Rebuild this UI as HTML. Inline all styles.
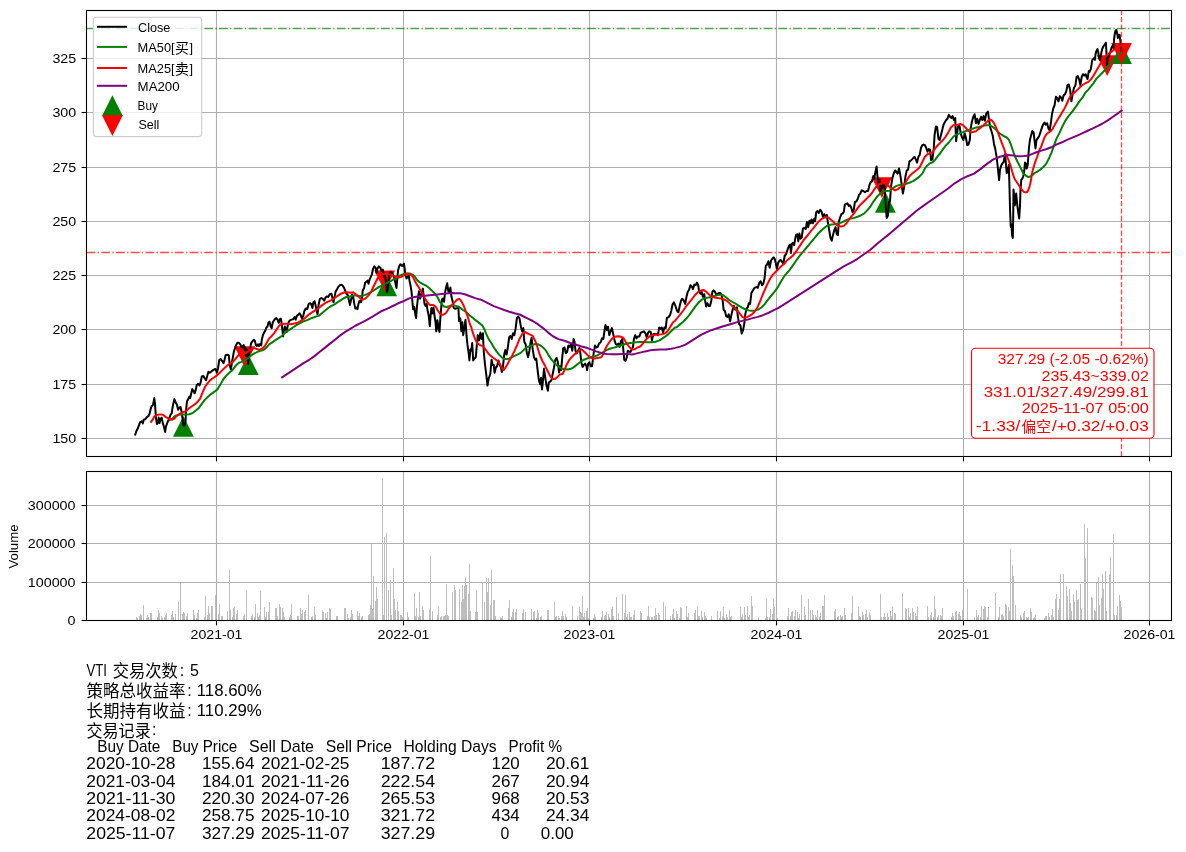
<!DOCTYPE html>
<html><head><meta charset="utf-8"><title>VTI</title>
<style>html,body{margin:0;padding:0;background:#fff}svg{display:block}svg text{font-family:"Liberation Sans","Noto Sans CJK SC",sans-serif}</style>
</head><body>
<svg width="1186" height="852" viewBox="0 0 1186 852" >
<rect width="1186" height="852" fill="#fff"/>
<defs><clipPath id="c1"><rect x="86.5" y="10.5" width="1085.0" height="446.0"/></clipPath></defs>
<g stroke="#b0b0b0" stroke-width="1.1" fill="none">
<path d="M216.5 10.5 V456.5"/>
<path d="M216.5 471.5 V620.5"/>
<path d="M403.5 10.5 V456.5"/>
<path d="M403.5 471.5 V620.5"/>
<path d="M589.5 10.5 V456.5"/>
<path d="M589.5 471.5 V620.5"/>
<path d="M776.5 10.5 V456.5"/>
<path d="M776.5 471.5 V620.5"/>
<path d="M963.5 10.5 V456.5"/>
<path d="M963.5 471.5 V620.5"/>
<path d="M1149.5 10.5 V456.5"/>
<path d="M1149.5 471.5 V620.5"/>
<path d="M86.5 438.5 H1171.5"/>
<path d="M86.5 384.5 H1171.5"/>
<path d="M86.5 329.5 H1171.5"/>
<path d="M86.5 275.5 H1171.5"/>
<path d="M86.5 221.5 H1171.5"/>
<path d="M86.5 167.5 H1171.5"/>
<path d="M86.5 112.5 H1171.5"/>
<path d="M86.5 58.5 H1171.5"/>
<path d="M86.5 620.5 H1171.5"/>
<path d="M86.5 582.5 H1171.5"/>
<path d="M86.5 543.5 H1171.5"/>
<path d="M86.5 505.5 H1171.5"/>
</g>
<g fill="#bebebe" shape-rendering="crispEdges">
<rect x="136" y="617" width="1" height="3"/>
<rect x="137" y="618" width="1" height="2"/>
<rect x="139" y="616" width="1" height="4"/>
<rect x="140" y="614" width="1" height="6"/>
<rect x="141" y="615" width="1" height="5"/>
<rect x="143" y="605" width="1" height="15"/>
<rect x="146" y="618" width="1" height="2"/>
<rect x="147" y="615" width="1" height="5"/>
<rect x="148" y="617" width="1" height="3"/>
<rect x="150" y="613" width="1" height="7"/>
<rect x="151" y="613" width="1" height="7"/>
<rect x="157" y="617" width="1" height="3"/>
<rect x="158" y="610" width="1" height="10"/>
<rect x="159" y="613" width="1" height="7"/>
<rect x="161" y="616" width="1" height="4"/>
<rect x="162" y="618" width="1" height="2"/>
<rect x="164" y="617" width="1" height="3"/>
<rect x="165" y="615" width="1" height="5"/>
<rect x="166" y="613" width="1" height="7"/>
<rect x="171" y="615" width="1" height="5"/>
<rect x="172" y="611" width="1" height="9"/>
<rect x="173" y="617" width="1" height="3"/>
<rect x="175" y="614" width="1" height="6"/>
<rect x="178" y="602" width="1" height="18"/>
<rect x="180" y="583" width="1" height="37"/>
<rect x="182" y="614" width="1" height="6"/>
<rect x="183" y="612" width="1" height="8"/>
<rect x="184" y="613" width="1" height="7"/>
<rect x="186" y="616" width="1" height="4"/>
<rect x="187" y="613" width="1" height="7"/>
<rect x="193" y="610" width="1" height="10"/>
<rect x="194" y="615" width="1" height="5"/>
<rect x="196" y="618" width="1" height="2"/>
<rect x="197" y="613" width="1" height="7"/>
<rect x="198" y="610" width="1" height="10"/>
<rect x="204" y="617" width="1" height="3"/>
<rect x="205" y="596" width="1" height="24"/>
<rect x="207" y="615" width="1" height="5"/>
<rect x="208" y="606" width="1" height="14"/>
<rect x="209" y="613" width="1" height="7"/>
<rect x="211" y="606" width="1" height="14"/>
<rect x="212" y="606" width="1" height="14"/>
<rect x="215" y="595" width="1" height="25"/>
<rect x="218" y="614" width="1" height="6"/>
<rect x="219" y="604" width="1" height="16"/>
<rect x="221" y="616" width="1" height="4"/>
<rect x="222" y="616" width="1" height="4"/>
<rect x="227" y="611" width="1" height="9"/>
<rect x="229" y="570" width="1" height="50"/>
<rect x="230" y="610" width="1" height="10"/>
<rect x="232" y="617" width="1" height="3"/>
<rect x="233" y="608" width="1" height="12"/>
<rect x="234" y="607" width="1" height="13"/>
<rect x="236" y="614" width="1" height="6"/>
<rect x="237" y="610" width="1" height="10"/>
<rect x="243" y="616" width="1" height="4"/>
<rect x="244" y="614" width="1" height="6"/>
<rect x="246" y="590" width="1" height="30"/>
<rect x="251" y="616" width="1" height="4"/>
<rect x="252" y="614" width="1" height="6"/>
<rect x="254" y="617" width="1" height="3"/>
<rect x="255" y="604" width="1" height="16"/>
<rect x="257" y="613" width="1" height="7"/>
<rect x="258" y="617" width="1" height="3"/>
<rect x="259" y="615" width="1" height="5"/>
<rect x="260" y="591" width="1" height="29"/>
<rect x="264" y="607" width="1" height="13"/>
<rect x="265" y="617" width="1" height="3"/>
<rect x="266" y="612" width="1" height="8"/>
<rect x="268" y="612" width="1" height="8"/>
<rect x="269" y="602" width="1" height="18"/>
<rect x="275" y="608" width="1" height="12"/>
<rect x="276" y="608" width="1" height="12"/>
<rect x="277" y="616" width="1" height="4"/>
<rect x="279" y="604" width="1" height="16"/>
<rect x="280" y="607" width="1" height="13"/>
<rect x="282" y="608" width="1" height="12"/>
<rect x="283" y="612" width="1" height="8"/>
<rect x="284" y="617" width="1" height="3"/>
<rect x="289" y="617" width="1" height="3"/>
<rect x="290" y="615" width="1" height="5"/>
<rect x="291" y="604" width="1" height="16"/>
<rect x="297" y="616" width="1" height="4"/>
<rect x="298" y="616" width="1" height="4"/>
<rect x="300" y="608" width="1" height="12"/>
<rect x="301" y="614" width="1" height="6"/>
<rect x="302" y="610" width="1" height="10"/>
<rect x="304" y="612" width="1" height="8"/>
<rect x="305" y="610" width="1" height="10"/>
<rect x="308" y="595" width="1" height="25"/>
<rect x="311" y="617" width="1" height="3"/>
<rect x="312" y="616" width="1" height="4"/>
<rect x="314" y="607" width="1" height="13"/>
<rect x="315" y="615" width="1" height="5"/>
<rect x="322" y="610" width="1" height="10"/>
<rect x="323" y="612" width="1" height="8"/>
<rect x="325" y="613" width="1" height="7"/>
<rect x="326" y="618" width="1" height="2"/>
<rect x="327" y="612" width="1" height="8"/>
<rect x="329" y="608" width="1" height="12"/>
<rect x="330" y="609" width="1" height="11"/>
<rect x="336" y="616" width="1" height="4"/>
<rect x="337" y="616" width="1" height="4"/>
<rect x="344" y="608" width="1" height="12"/>
<rect x="345" y="608" width="1" height="12"/>
<rect x="347" y="614" width="1" height="6"/>
<rect x="348" y="618" width="1" height="2"/>
<rect x="350" y="617" width="1" height="3"/>
<rect x="351" y="610" width="1" height="10"/>
<rect x="352" y="614" width="1" height="6"/>
<rect x="357" y="611" width="1" height="9"/>
<rect x="358" y="616" width="1" height="4"/>
<rect x="359" y="613" width="1" height="7"/>
<rect x="361" y="617" width="1" height="3"/>
<rect x="362" y="616" width="1" height="4"/>
<rect x="368" y="615" width="1" height="5"/>
<rect x="369" y="614" width="1" height="6"/>
<rect x="370" y="605" width="1" height="15"/>
<rect x="371" y="544" width="1" height="76"/>
<rect x="372" y="609" width="1" height="11"/>
<rect x="373" y="576" width="1" height="44"/>
<rect x="375" y="601" width="1" height="19"/>
<rect x="376" y="587" width="1" height="33"/>
<rect x="377" y="599" width="1" height="21"/>
<rect x="382" y="478" width="1" height="142"/>
<rect x="383" y="615" width="1" height="5"/>
<rect x="384" y="537" width="1" height="83"/>
<rect x="386" y="533" width="1" height="87"/>
<rect x="388" y="590" width="1" height="30"/>
<rect x="390" y="580" width="1" height="40"/>
<rect x="391" y="615" width="1" height="5"/>
<rect x="393" y="568" width="1" height="52"/>
<rect x="394" y="599" width="1" height="21"/>
<rect x="395" y="610" width="1" height="10"/>
<rect x="397" y="602" width="1" height="18"/>
<rect x="398" y="611" width="1" height="9"/>
<rect x="400" y="615" width="1" height="5"/>
<rect x="401" y="615" width="1" height="5"/>
<rect x="402" y="617" width="1" height="3"/>
<rect x="407" y="612" width="1" height="8"/>
<rect x="408" y="617" width="1" height="3"/>
<rect x="414" y="593" width="1" height="27"/>
<rect x="415" y="616" width="1" height="4"/>
<rect x="416" y="608" width="1" height="12"/>
<rect x="418" y="617" width="1" height="3"/>
<rect x="419" y="592" width="1" height="28"/>
<rect x="420" y="616" width="1" height="4"/>
<rect x="422" y="606" width="1" height="14"/>
<rect x="423" y="610" width="1" height="10"/>
<rect x="429" y="610" width="1" height="10"/>
<rect x="430" y="556" width="1" height="64"/>
<rect x="432" y="611" width="1" height="9"/>
<rect x="437" y="615" width="1" height="5"/>
<rect x="438" y="606" width="1" height="14"/>
<rect x="440" y="617" width="1" height="3"/>
<rect x="441" y="616" width="1" height="4"/>
<rect x="443" y="616" width="1" height="4"/>
<rect x="444" y="616" width="1" height="4"/>
<rect x="445" y="615" width="1" height="5"/>
<rect x="446" y="584" width="1" height="36"/>
<rect x="447" y="615" width="1" height="5"/>
<rect x="448" y="616" width="1" height="4"/>
<rect x="452" y="592" width="1" height="28"/>
<rect x="454" y="585" width="1" height="35"/>
<rect x="455" y="590" width="1" height="30"/>
<rect x="459" y="589" width="1" height="31"/>
<rect x="461" y="602" width="1" height="18"/>
<rect x="462" y="585" width="1" height="35"/>
<rect x="463" y="599" width="1" height="21"/>
<rect x="464" y="586" width="1" height="34"/>
<rect x="465" y="577" width="1" height="43"/>
<rect x="466" y="585" width="1" height="35"/>
<rect x="468" y="594" width="1" height="26"/>
<rect x="469" y="564" width="1" height="56"/>
<rect x="470" y="611" width="1" height="9"/>
<rect x="475" y="612" width="1" height="8"/>
<rect x="476" y="590" width="1" height="30"/>
<rect x="477" y="612" width="1" height="8"/>
<rect x="482" y="583" width="1" height="37"/>
<rect x="484" y="602" width="1" height="18"/>
<rect x="486" y="578" width="1" height="42"/>
<rect x="487" y="592" width="1" height="28"/>
<rect x="488" y="578" width="1" height="42"/>
<rect x="490" y="605" width="1" height="15"/>
<rect x="491" y="570" width="1" height="50"/>
<rect x="493" y="600" width="1" height="20"/>
<rect x="494" y="600" width="1" height="20"/>
<rect x="495" y="616" width="1" height="4"/>
<rect x="500" y="617" width="1" height="3"/>
<rect x="501" y="618" width="1" height="2"/>
<rect x="502" y="616" width="1" height="4"/>
<rect x="508" y="608" width="1" height="12"/>
<rect x="509" y="600" width="1" height="20"/>
<rect x="511" y="617" width="1" height="3"/>
<rect x="512" y="612" width="1" height="8"/>
<rect x="513" y="609" width="1" height="11"/>
<rect x="515" y="612" width="1" height="8"/>
<rect x="516" y="609" width="1" height="11"/>
<rect x="522" y="613" width="1" height="7"/>
<rect x="523" y="609" width="1" height="11"/>
<rect x="525" y="612" width="1" height="8"/>
<rect x="531" y="609" width="1" height="11"/>
<rect x="533" y="612" width="1" height="8"/>
<rect x="534" y="611" width="1" height="9"/>
<rect x="536" y="618" width="1" height="2"/>
<rect x="537" y="610" width="1" height="10"/>
<rect x="538" y="613" width="1" height="7"/>
<rect x="540" y="617" width="1" height="3"/>
<rect x="541" y="616" width="1" height="4"/>
<rect x="547" y="610" width="1" height="10"/>
<rect x="548" y="610" width="1" height="10"/>
<rect x="554" y="602" width="1" height="18"/>
<rect x="555" y="617" width="1" height="3"/>
<rect x="556" y="616" width="1" height="4"/>
<rect x="558" y="616" width="1" height="4"/>
<rect x="559" y="618" width="1" height="2"/>
<rect x="561" y="616" width="1" height="4"/>
<rect x="562" y="611" width="1" height="9"/>
<rect x="563" y="616" width="1" height="4"/>
<rect x="565" y="614" width="1" height="6"/>
<rect x="566" y="617" width="1" height="3"/>
<rect x="572" y="606" width="1" height="14"/>
<rect x="577" y="616" width="1" height="4"/>
<rect x="579" y="607" width="1" height="13"/>
<rect x="580" y="612" width="1" height="8"/>
<rect x="581" y="613" width="1" height="7"/>
<rect x="582" y="596" width="1" height="24"/>
<rect x="583" y="617" width="1" height="3"/>
<rect x="584" y="613" width="1" height="7"/>
<rect x="586" y="611" width="1" height="9"/>
<rect x="587" y="608" width="1" height="12"/>
<rect x="588" y="618" width="1" height="2"/>
<rect x="593" y="618" width="1" height="2"/>
<rect x="594" y="614" width="1" height="6"/>
<rect x="595" y="617" width="1" height="3"/>
<rect x="601" y="617" width="1" height="3"/>
<rect x="602" y="611" width="1" height="9"/>
<rect x="604" y="616" width="1" height="4"/>
<rect x="605" y="615" width="1" height="5"/>
<rect x="606" y="612" width="1" height="8"/>
<rect x="608" y="614" width="1" height="6"/>
<rect x="609" y="617" width="1" height="3"/>
<rect x="611" y="609" width="1" height="11"/>
<rect x="612" y="607" width="1" height="13"/>
<rect x="613" y="616" width="1" height="4"/>
<rect x="616" y="597" width="1" height="23"/>
<rect x="618" y="613" width="1" height="7"/>
<rect x="622" y="594" width="1" height="26"/>
<rect x="624" y="613" width="1" height="7"/>
<rect x="625" y="595" width="1" height="25"/>
<rect x="626" y="617" width="1" height="3"/>
<rect x="627" y="614" width="1" height="6"/>
<rect x="629" y="612" width="1" height="8"/>
<rect x="630" y="617" width="1" height="3"/>
<rect x="631" y="617" width="1" height="3"/>
<rect x="633" y="615" width="1" height="5"/>
<rect x="634" y="610" width="1" height="10"/>
<rect x="640" y="611" width="1" height="9"/>
<rect x="641" y="613" width="1" height="7"/>
<rect x="647" y="616" width="1" height="4"/>
<rect x="648" y="606" width="1" height="14"/>
<rect x="649" y="617" width="1" height="3"/>
<rect x="651" y="617" width="1" height="3"/>
<rect x="652" y="617" width="1" height="3"/>
<rect x="654" y="616" width="1" height="4"/>
<rect x="655" y="608" width="1" height="12"/>
<rect x="656" y="615" width="1" height="5"/>
<rect x="658" y="613" width="1" height="7"/>
<rect x="659" y="615" width="1" height="5"/>
<rect x="663" y="602" width="1" height="18"/>
<rect x="665" y="607" width="1" height="13"/>
<rect x="670" y="616" width="1" height="4"/>
<rect x="672" y="614" width="1" height="6"/>
<rect x="673" y="609" width="1" height="11"/>
<rect x="674" y="618" width="1" height="2"/>
<rect x="676" y="611" width="1" height="9"/>
<rect x="677" y="614" width="1" height="6"/>
<rect x="679" y="618" width="1" height="2"/>
<rect x="680" y="607" width="1" height="13"/>
<rect x="681" y="608" width="1" height="12"/>
<rect x="686" y="606" width="1" height="14"/>
<rect x="687" y="617" width="1" height="3"/>
<rect x="688" y="613" width="1" height="7"/>
<rect x="694" y="613" width="1" height="7"/>
<rect x="695" y="610" width="1" height="10"/>
<rect x="697" y="607" width="1" height="13"/>
<rect x="698" y="616" width="1" height="4"/>
<rect x="699" y="616" width="1" height="4"/>
<rect x="701" y="611" width="1" height="9"/>
<rect x="702" y="617" width="1" height="3"/>
<rect x="704" y="612" width="1" height="8"/>
<rect x="705" y="616" width="1" height="4"/>
<rect x="706" y="618" width="1" height="2"/>
<rect x="711" y="616" width="1" height="4"/>
<rect x="717" y="611" width="1" height="9"/>
<rect x="719" y="618" width="1" height="2"/>
<rect x="720" y="611" width="1" height="9"/>
<rect x="722" y="616" width="1" height="4"/>
<rect x="723" y="607" width="1" height="13"/>
<rect x="724" y="618" width="1" height="2"/>
<rect x="726" y="614" width="1" height="6"/>
<rect x="727" y="617" width="1" height="3"/>
<rect x="729" y="610" width="1" height="10"/>
<rect x="730" y="617" width="1" height="3"/>
<rect x="731" y="616" width="1" height="4"/>
<rect x="740" y="607" width="1" height="13"/>
<rect x="741" y="617" width="1" height="3"/>
<rect x="742" y="614" width="1" height="6"/>
<rect x="744" y="607" width="1" height="13"/>
<rect x="745" y="615" width="1" height="5"/>
<rect x="747" y="606" width="1" height="14"/>
<rect x="748" y="617" width="1" height="3"/>
<rect x="749" y="615" width="1" height="5"/>
<rect x="751" y="596" width="1" height="24"/>
<rect x="752" y="606" width="1" height="14"/>
<rect x="758" y="617" width="1" height="3"/>
<rect x="765" y="618" width="1" height="2"/>
<rect x="766" y="599" width="1" height="21"/>
<rect x="767" y="617" width="1" height="3"/>
<rect x="769" y="617" width="1" height="3"/>
<rect x="770" y="609" width="1" height="11"/>
<rect x="772" y="614" width="1" height="6"/>
<rect x="773" y="599" width="1" height="21"/>
<rect x="774" y="607" width="1" height="13"/>
<rect x="776" y="615" width="1" height="5"/>
<rect x="777" y="618" width="1" height="2"/>
<rect x="787" y="616" width="1" height="4"/>
<rect x="788" y="608" width="1" height="12"/>
<rect x="790" y="616" width="1" height="4"/>
<rect x="791" y="612" width="1" height="8"/>
<rect x="792" y="611" width="1" height="9"/>
<rect x="794" y="616" width="1" height="4"/>
<rect x="795" y="610" width="1" height="10"/>
<rect x="797" y="612" width="1" height="8"/>
<rect x="798" y="618" width="1" height="2"/>
<rect x="799" y="614" width="1" height="6"/>
<rect x="801" y="595" width="1" height="25"/>
<rect x="804" y="607" width="1" height="13"/>
<rect x="805" y="615" width="1" height="5"/>
<rect x="808" y="599" width="1" height="21"/>
<rect x="810" y="610" width="1" height="10"/>
<rect x="812" y="610" width="1" height="10"/>
<rect x="813" y="615" width="1" height="5"/>
<rect x="815" y="615" width="1" height="5"/>
<rect x="816" y="617" width="1" height="3"/>
<rect x="817" y="610" width="1" height="10"/>
<rect x="819" y="617" width="1" height="3"/>
<rect x="820" y="613" width="1" height="7"/>
<rect x="822" y="606" width="1" height="14"/>
<rect x="823" y="606" width="1" height="14"/>
<rect x="824" y="595" width="1" height="25"/>
<rect x="834" y="611" width="1" height="9"/>
<rect x="835" y="609" width="1" height="11"/>
<rect x="837" y="617" width="1" height="3"/>
<rect x="838" y="616" width="1" height="4"/>
<rect x="840" y="615" width="1" height="5"/>
<rect x="841" y="617" width="1" height="3"/>
<rect x="842" y="616" width="1" height="4"/>
<rect x="844" y="608" width="1" height="12"/>
<rect x="845" y="615" width="1" height="5"/>
<rect x="851" y="613" width="1" height="7"/>
<rect x="852" y="596" width="1" height="24"/>
<rect x="858" y="607" width="1" height="13"/>
<rect x="859" y="616" width="1" height="4"/>
<rect x="860" y="617" width="1" height="3"/>
<rect x="862" y="612" width="1" height="8"/>
<rect x="863" y="615" width="1" height="5"/>
<rect x="865" y="614" width="1" height="6"/>
<rect x="866" y="610" width="1" height="10"/>
<rect x="867" y="617" width="1" height="3"/>
<rect x="869" y="612" width="1" height="8"/>
<rect x="870" y="615" width="1" height="5"/>
<rect x="880" y="594" width="1" height="26"/>
<rect x="881" y="617" width="1" height="3"/>
<rect x="883" y="617" width="1" height="3"/>
<rect x="884" y="613" width="1" height="7"/>
<rect x="885" y="617" width="1" height="3"/>
<rect x="887" y="613" width="1" height="7"/>
<rect x="888" y="617" width="1" height="3"/>
<rect x="890" y="611" width="1" height="9"/>
<rect x="891" y="616" width="1" height="4"/>
<rect x="892" y="607" width="1" height="13"/>
<rect x="894" y="613" width="1" height="7"/>
<rect x="895" y="614" width="1" height="6"/>
<rect x="902" y="593" width="1" height="27"/>
<rect x="905" y="608" width="1" height="12"/>
<rect x="906" y="609" width="1" height="11"/>
<rect x="908" y="608" width="1" height="12"/>
<rect x="909" y="617" width="1" height="3"/>
<rect x="910" y="613" width="1" height="7"/>
<rect x="912" y="608" width="1" height="12"/>
<rect x="913" y="612" width="1" height="8"/>
<rect x="915" y="613" width="1" height="7"/>
<rect x="916" y="616" width="1" height="4"/>
<rect x="917" y="607" width="1" height="13"/>
<rect x="927" y="606" width="1" height="14"/>
<rect x="928" y="617" width="1" height="3"/>
<rect x="930" y="615" width="1" height="5"/>
<rect x="931" y="612" width="1" height="8"/>
<rect x="933" y="617" width="1" height="3"/>
<rect x="934" y="596" width="1" height="24"/>
<rect x="935" y="609" width="1" height="11"/>
<rect x="937" y="617" width="1" height="3"/>
<rect x="938" y="615" width="1" height="5"/>
<rect x="940" y="615" width="1" height="5"/>
<rect x="941" y="616" width="1" height="4"/>
<rect x="942" y="608" width="1" height="12"/>
<rect x="951" y="617" width="1" height="3"/>
<rect x="952" y="613" width="1" height="7"/>
<rect x="953" y="616" width="1" height="4"/>
<rect x="955" y="612" width="1" height="8"/>
<rect x="956" y="611" width="1" height="9"/>
<rect x="958" y="614" width="1" height="6"/>
<rect x="959" y="612" width="1" height="8"/>
<rect x="960" y="616" width="1" height="4"/>
<rect x="962" y="610" width="1" height="10"/>
<rect x="963" y="617" width="1" height="3"/>
<rect x="967" y="589" width="1" height="31"/>
<rect x="974" y="617" width="1" height="3"/>
<rect x="976" y="610" width="1" height="10"/>
<rect x="977" y="617" width="1" height="3"/>
<rect x="978" y="615" width="1" height="5"/>
<rect x="980" y="617" width="1" height="3"/>
<rect x="981" y="606" width="1" height="14"/>
<rect x="983" y="609" width="1" height="11"/>
<rect x="984" y="606" width="1" height="14"/>
<rect x="985" y="607" width="1" height="13"/>
<rect x="987" y="617" width="1" height="3"/>
<rect x="988" y="607" width="1" height="13"/>
<rect x="995" y="593" width="1" height="27"/>
<rect x="998" y="617" width="1" height="3"/>
<rect x="999" y="607" width="1" height="13"/>
<rect x="1001" y="615" width="1" height="5"/>
<rect x="1002" y="614" width="1" height="6"/>
<rect x="1003" y="616" width="1" height="4"/>
<rect x="1005" y="604" width="1" height="16"/>
<rect x="1006" y="605" width="1" height="15"/>
<rect x="1008" y="607" width="1" height="13"/>
<rect x="1009" y="611" width="1" height="9"/>
<rect x="1010" y="549" width="1" height="71"/>
<rect x="1012" y="565" width="1" height="55"/>
<rect x="1013" y="576" width="1" height="44"/>
<rect x="1015" y="605" width="1" height="15"/>
<rect x="1020" y="615" width="1" height="5"/>
<rect x="1021" y="617" width="1" height="3"/>
<rect x="1023" y="613" width="1" height="7"/>
<rect x="1024" y="611" width="1" height="9"/>
<rect x="1026" y="617" width="1" height="3"/>
<rect x="1027" y="618" width="1" height="2"/>
<rect x="1028" y="617" width="1" height="3"/>
<rect x="1030" y="608" width="1" height="12"/>
<rect x="1031" y="612" width="1" height="8"/>
<rect x="1033" y="618" width="1" height="2"/>
<rect x="1034" y="617" width="1" height="3"/>
<rect x="1035" y="615" width="1" height="5"/>
<rect x="1044" y="618" width="1" height="2"/>
<rect x="1045" y="616" width="1" height="4"/>
<rect x="1046" y="616" width="1" height="4"/>
<rect x="1048" y="613" width="1" height="7"/>
<rect x="1049" y="617" width="1" height="3"/>
<rect x="1051" y="615" width="1" height="5"/>
<rect x="1052" y="609" width="1" height="11"/>
<rect x="1053" y="617" width="1" height="3"/>
<rect x="1055" y="599" width="1" height="21"/>
<rect x="1056" y="594" width="1" height="26"/>
<rect x="1058" y="610" width="1" height="10"/>
<rect x="1059" y="599" width="1" height="21"/>
<rect x="1060" y="574" width="1" height="46"/>
<rect x="1063" y="574" width="1" height="46"/>
<rect x="1066" y="586" width="1" height="34"/>
<rect x="1067" y="596" width="1" height="24"/>
<rect x="1069" y="589" width="1" height="31"/>
<rect x="1070" y="603" width="1" height="17"/>
<rect x="1071" y="611" width="1" height="9"/>
<rect x="1073" y="594" width="1" height="26"/>
<rect x="1074" y="602" width="1" height="18"/>
<rect x="1076" y="590" width="1" height="30"/>
<rect x="1077" y="600" width="1" height="20"/>
<rect x="1078" y="599" width="1" height="21"/>
<rect x="1080" y="584" width="1" height="36"/>
<rect x="1081" y="609" width="1" height="11"/>
<rect x="1084" y="524" width="1" height="96"/>
<rect x="1085" y="558" width="1" height="62"/>
<rect x="1087" y="528" width="1" height="92"/>
<rect x="1091" y="597" width="1" height="23"/>
<rect x="1092" y="598" width="1" height="22"/>
<rect x="1094" y="610" width="1" height="10"/>
<rect x="1095" y="611" width="1" height="9"/>
<rect x="1096" y="583" width="1" height="37"/>
<rect x="1098" y="577" width="1" height="43"/>
<rect x="1099" y="605" width="1" height="15"/>
<rect x="1101" y="598" width="1" height="22"/>
<rect x="1102" y="574" width="1" height="46"/>
<rect x="1103" y="589" width="1" height="31"/>
<rect x="1105" y="571" width="1" height="49"/>
<rect x="1106" y="611" width="1" height="9"/>
<rect x="1109" y="574" width="1" height="46"/>
<rect x="1110" y="557" width="1" height="63"/>
<rect x="1113" y="534" width="1" height="86"/>
<rect x="1114" y="615" width="1" height="5"/>
<rect x="1116" y="615" width="1" height="5"/>
<rect x="1117" y="606" width="1" height="14"/>
<rect x="1119" y="595" width="1" height="25"/>
<rect x="1120" y="601" width="1" height="19"/>
<rect x="1121" y="607" width="1" height="13"/>
</g>
<g clip-path="url(#c1)">
<path d="M183.4 415.9 L173.0 436.7 L193.8 436.7 Z" fill="#008000"/>
<path d="M248.3 354.3 L237.9 375.1 L258.7 375.1 Z" fill="#008000"/>
<path d="M386.7 275.5 L376.3 296.3 L397.1 296.3 Z" fill="#008000"/>
<path d="M885.4 192.0 L875.0 212.8 L895.8 212.8 Z" fill="#008000"/>
<path d="M1121.5 43.1 L1111.1 63.9 L1131.9 63.9 Z" fill="#008000"/>
<path d="M244.7 367.0 L234.3 346.2 L255.1 346.2 Z" fill="#ff0000"/>
<path d="M384.7 291.4 L374.3 270.6 L395.1 270.6 Z" fill="#ff0000"/>
<path d="M881.9 198.0 L871.5 177.2 L892.3 177.2 Z" fill="#ff0000"/>
<path d="M1107.2 76.0 L1096.8 55.2 L1117.6 55.2 Z" fill="#ff0000"/>
<path d="M1121.5 63.9 L1111.1 43.1 L1131.9 43.1 Z" fill="#ff0000"/>
<g fill="none" stroke-width="2" stroke-linejoin="round" stroke-linecap="square">
<path d="M135.3 434.5 L136.3 431.3 L137.9 428.2 L140.0 422.4 L141.6 421.3 L142.9 423.4 L143.7 419.7 L145.3 419.2 L146.9 417.1 L148.5 416.0 L149.5 413.9 L150.6 409.2 L151.7 406.0 L153.0 404.9 L154.3 398.1 L155.1 404.9 L155.9 417.6 L156.9 423.9 L158.0 422.9 L158.7 417.6 L159.6 422.9 L160.6 418.7 L161.7 417.6 L162.7 422.9 L163.8 426.1 L165.1 431.9 L166.1 426.1 L167.5 422.4 L169.1 418.7 L170.7 414.4 L171.7 413.4 L172.8 406.0 L174.4 399.1 L175.6 402.3 L177.0 404.9 L178.1 409.7 L179.1 407.6 L180.5 407.0 L181.5 411.3 L182.5 418.7 L183.3 425.5 L184.4 425.5 L185.5 421.8 L186.2 409.2 L187.0 401.2 L188.3 399.1 L189.4 396.5 L190.2 398.1 L191.3 393.3 L192.3 389.1 L193.4 390.7 L194.6 393.3 L195.7 390.1 L196.8 384.9 L198.1 383.8 L199.5 385.4 L200.6 382.7 L201.8 376.4 L203.4 375.9 L204.5 378.0 L206.1 380.1 L207.1 376.4 L208.4 371.7 L209.8 372.7 L211.1 371.7 L212.4 370.6 L214.0 369.5 L215.6 369.0 L216.8 372.7 L217.9 369.0 L219.3 360.0 L220.6 359.0 L221.9 360.6 L223.5 363.2 L224.5 360.0 L225.6 355.3 L227.2 354.8 L228.8 355.3 L229.8 365.3 L230.9 369.5 L231.9 362.7 L233.0 356.3 L234.0 351.1 L234.8 348.9 L235.8 345.5 L237.4 342.8 L239.0 342.8 L240.6 345.0 L241.8 347.6 L242.9 346.0 L243.7 345.0 L244.6 349.7 L245.3 347.6 L246.1 356.1 L246.9 349.7 L247.7 358.2 L248.2 364.0 L249.0 353.9 L250.1 348.7 L251.1 343.4 L252.4 341.3 L253.8 339.7 L254.8 340.7 L255.9 345.0 L256.9 346.0 L258.0 344.4 L259.0 346.0 L260.1 343.9 L261.2 345.5 L261.9 339.2 L263.0 334.9 L264.3 332.3 L265.4 330.2 L266.4 327.5 L267.5 326.5 L268.6 322.3 L269.6 321.7 L270.7 326.5 L271.7 328.1 L272.8 322.3 L273.8 320.7 L274.9 319.1 L276.3 318.0 L277.5 319.6 L278.8 322.8 L279.9 319.1 L280.9 318.6 L281.8 324.4 L282.5 330.7 L283.1 336.5 L283.9 330.7 L284.9 326.5 L286.0 329.6 L286.8 331.8 L287.9 324.4 L288.9 321.7 L290.2 320.1 L291.8 319.6 L293.4 319.1 L294.6 317.0 L295.7 319.6 L296.8 315.9 L298.1 314.9 L299.5 313.3 L300.8 315.4 L302.0 318.6 L303.1 316.4 L304.5 310.6 L305.8 308.5 L307.3 309.0 L308.7 303.8 L310.1 303.2 L311.3 304.3 L312.4 308.0 L313.4 302.2 L314.5 301.1 L315.6 305.4 L316.6 310.6 L317.5 314.3 L318.5 305.4 L319.8 299.0 L321.4 298.0 L323.0 299.0 L324.2 300.6 L325.6 297.4 L327.0 296.4 L328.2 296.9 L329.8 294.3 L331.4 293.7 L332.5 298.0 L333.5 302.2 L334.6 296.9 L335.6 291.6 L336.9 289.5 L338.3 286.9 L339.9 285.3 L341.4 284.8 L342.8 285.8 L344.1 287.9 L346.3 293.3 L347.9 295.4 L349.0 300.7 L350.0 304.9 L351.1 299.6 L352.1 294.4 L353.2 297.0 L354.3 303.9 L355.3 308.6 L356.4 307.6 L357.4 309.2 L358.5 303.9 L359.5 300.7 L361.1 302.3 L362.2 296.5 L362.7 290.7 L364.1 288.0 L365.1 282.7 L366.4 281.7 L367.7 280.6 L368.5 283.8 L369.6 279.6 L370.8 276.9 L371.9 274.3 L373.0 269.0 L374.3 266.4 L375.7 268.0 L376.4 272.7 L377.5 268.5 L378.9 266.4 L380.1 267.4 L381.4 270.6 L382.8 269.5 L383.8 276.4 L384.9 274.3 L385.9 281.7 L387.0 292.3 L388.1 287.0 L388.8 278.5 L389.6 272.7 L390.7 271.7 L391.8 272.7 L392.8 274.3 L394.1 277.5 L395.1 281.7 L396.5 288.0 L397.3 278.5 L398.1 270.1 L399.4 265.8 L400.4 264.3 L401.8 265.8 L402.8 265.8 L403.9 263.7 L404.6 268.0 L405.5 275.4 L406.5 278.5 L407.6 276.9 L408.7 275.4 L409.5 280.6 L410.6 285.9 L411.6 292.3 L412.4 301.8 L413.1 309.2 L414.2 307.0 L415.0 312.3 L416.1 318.1 L416.9 307.0 L418.0 297.5 L419.0 291.2 L420.1 298.6 L421.1 295.4 L422.2 291.2 L422.9 288.6 L423.7 296.5 L424.5 303.9 L425.6 306.0 L426.6 303.9 L427.7 311.3 L428.7 315.5 L429.8 326.1 L430.6 315.5 L431.4 308.1 L432.4 313.4 L433.5 307.6 L434.5 315.5 L435.6 322.9 L436.3 331.3 L437.4 320.2 L438.4 328.2 L439.5 331.9 L440.3 318.7 L441.2 308.1 L441.9 299.6 L443.0 298.6 L444.0 301.8 L445.1 292.3 L446.2 287.0 L447.2 283.3 L448.3 291.2 L449.3 292.3 L450.4 287.5 L451.4 296.5 L452.5 300.7 L453.6 307.6 L454.6 308.6 L455.2 308.7 L457.1 308.1 L458.4 306.8 L459.0 321.0 L460.3 318.4 L461.4 331.3 L462.3 322.3 L463.2 335.2 L464.2 328.7 L465.5 319.7 L466.5 335.2 L467.4 344.2 L468.7 353.3 L469.4 360.4 L470.4 349.4 L471.3 350.7 L472.2 343.0 L473.2 360.4 L474.5 358.5 L475.8 357.2 L476.9 344.2 L477.8 335.2 L479.1 340.4 L480.4 332.6 L481.6 339.1 L482.9 333.3 L483.8 352.0 L484.9 363.6 L486.2 374.0 L487.5 385.6 L488.7 378.5 L490.3 374.0 L491.6 359.7 L492.6 364.9 L493.7 364.9 L494.6 372.7 L495.9 367.5 L497.1 366.2 L498.4 360.4 L499.7 364.9 L501.0 367.5 L501.9 372.0 L503.0 366.2 L504.2 354.6 L505.3 350.1 L506.6 354.6 L507.9 346.8 L509.2 337.1 L510.4 335.9 L511.7 339.1 L513.0 333.3 L514.3 335.2 L515.6 328.7 L516.9 317.8 L518.2 316.5 L519.5 318.4 L520.8 326.2 L522.1 331.3 L523.4 328.1 L524.3 341.7 L525.6 344.2 L526.9 353.3 L528.1 357.2 L529.4 350.7 L530.7 341.7 L531.6 337.8 L532.7 349.4 L534.0 357.2 L535.2 359.7 L536.3 358.5 L537.6 370.1 L538.9 380.4 L540.2 384.3 L541.1 377.8 L542.0 389.5 L543.0 380.4 L544.0 368.8 L545.3 377.8 L546.6 386.2 L547.9 390.7 L548.8 382.4 L550.1 381.7 L551.4 380.4 L552.7 374.0 L554.0 367.5 L555.3 359.7 L556.6 357.8 L557.9 362.3 L559.1 372.7 L560.0 366.2 L561.1 370.1 L562.3 357.2 L563.2 348.1 L564.5 347.5 L565.8 353.3 L567.1 352.0 L568.4 345.5 L569.7 346.8 L571.0 344.2 L572.3 350.7 L573.6 339.1 L574.5 341.7 L575.5 350.7 L576.8 353.3 L578.1 350.7 L579.4 348.1 L580.4 353.3 L581.3 362.3 L582.6 366.9 L583.9 364.9 L585.2 363.6 L586.5 366.2 L587.1 370.1 L588.2 363.6 L589.4 362.3 L590.7 366.2 L592.0 366.2 L592.9 359.7 L593.8 352.0 L595.1 345.5 L596.4 347.5 L597.7 346.8 L599.0 343.6 L600.7 342.3 L602.0 338.4 L603.3 339.1 L604.6 330.0 L605.5 324.9 L606.8 330.0 L608.0 326.8 L609.3 335.2 L610.6 331.3 L611.9 328.1 L613.2 333.9 L614.5 340.4 L615.8 344.2 L617.1 344.9 L618.4 343.6 L619.7 346.8 L621.0 341.0 L622.3 339.1 L623.3 349.4 L624.2 359.7 L625.5 361.0 L626.8 357.2 L627.8 350.7 L629.1 351.4 L630.4 352.0 L631.7 349.4 L633.0 346.8 L633.9 339.1 L635.2 335.2 L636.5 338.4 L637.8 336.5 L639.4 336.5 L640.7 332.6 L642.4 332.0 L644.0 331.3 L645.5 333.3 L646.8 337.8 L648.1 332.6 L649.4 331.3 L650.7 332.0 L652.0 340.4 L653.3 333.9 L654.9 333.9 L656.6 333.9 L657.9 335.2 L659.2 327.5 L660.5 328.7 L661.8 327.5 L663.1 332.6 L664.4 327.5 L665.7 328.1 L666.9 317.8 L668.5 317.1 L670.0 315.2 L671.3 310.7 L672.6 304.2 L673.9 302.3 L675.4 305.9 L677.1 311.0 L678.4 312.3 L679.7 305.9 L681.0 300.7 L682.3 298.8 L683.6 300.1 L685.2 303.9 L686.5 296.8 L687.8 291.7 L689.1 289.7 L690.4 285.2 L691.7 286.5 L693.0 289.1 L694.3 284.6 L695.6 285.2 L696.9 282.6 L698.2 285.2 L699.1 291.7 L700.4 293.6 L701.6 291.7 L702.9 296.8 L704.2 294.2 L705.1 300.7 L706.2 306.5 L707.5 303.3 L708.7 305.9 L710.0 305.9 L711.3 300.7 L712.4 291.7 L713.7 290.4 L714.9 291.7 L716.2 294.2 L717.5 294.2 L718.8 293.0 L720.1 293.0 L721.4 294.2 L722.7 300.7 L723.6 309.7 L724.9 311.0 L726.2 316.2 L727.5 316.9 L728.8 314.3 L730.1 321.4 L731.4 314.9 L732.6 309.7 L733.9 305.9 L735.2 309.7 L736.9 307.2 L737.8 316.2 L739.1 324.0 L740.4 325.2 L741.7 333.6 L743.0 330.4 L744.3 324.0 L745.2 314.9 L746.5 308.5 L747.8 307.2 L748.8 303.3 L750.1 303.9 L751.4 293.0 L752.9 290.4 L754.6 287.8 L756.3 287.1 L757.8 287.8 L759.4 282.6 L760.7 281.3 L762.0 285.2 L763.3 283.9 L764.5 278.7 L765.8 265.8 L767.1 264.5 L768.4 261.3 L769.7 267.8 L771.0 260.7 L772.3 258.7 L773.6 257.4 L774.9 259.4 L775.9 263.9 L776.9 269.1 L778.2 262.6 L779.5 260.7 L780.8 260.0 L782.1 262.0 L783.4 263.9 L784.7 255.5 L785.2 255.6 L786.5 253.0 L787.7 249.1 L789.0 245.9 L790.1 244.6 L791.0 253.0 L791.9 244.0 L792.9 242.7 L794.2 245.2 L795.2 238.8 L796.1 234.9 L797.4 234.3 L798.3 241.4 L799.4 233.6 L800.4 238.8 L801.7 237.5 L803.0 228.5 L804.5 227.8 L805.8 229.1 L806.9 222.0 L808.2 227.2 L809.4 220.7 L810.7 223.3 L811.6 219.4 L812.9 223.3 L814.2 218.8 L815.1 221.4 L816.2 212.3 L817.5 211.0 L818.7 213.0 L820.3 209.7 L821.6 211.7 L822.9 216.8 L824.2 214.2 L825.5 216.2 L826.8 214.9 L827.8 222.0 L829.1 229.7 L830.4 237.5 L831.7 240.7 L833.0 234.9 L834.2 230.4 L835.5 227.2 L836.8 234.3 L837.9 234.9 L838.8 222.0 L840.1 217.5 L841.4 214.2 L842.6 213.6 L843.9 211.7 L844.8 204.6 L846.1 203.9 L847.4 203.3 L848.7 205.9 L850.0 205.2 L851.3 207.8 L852.6 212.3 L853.9 209.1 L854.9 202.0 L856.5 201.3 L857.8 198.7 L859.0 194.9 L860.3 193.6 L861.6 190.4 L863.3 191.0 L865.0 192.3 L866.5 191.0 L868.1 191.0 L869.4 185.2 L870.7 182.0 L872.0 181.3 L873.3 176.1 L874.3 178.7 L875.3 172.3 L876.6 166.5 L877.5 176.8 L878.4 183.2 L879.5 179.4 L880.5 191.0 L881.4 185.8 L882.7 187.8 L883.6 183.9 L884.6 185.8 L885.7 205.2 L886.7 218.1 L887.9 215.5 L888.8 202.6 L890.0 201.3 L891.1 185.8 L892.4 178.1 L893.9 173.0 L895.2 170.4 L896.5 172.3 L897.7 173.6 L899.0 168.5 L900.3 174.9 L901.6 184.0 L902.9 193.6 L904.2 186.5 L905.5 176.2 L906.8 170.4 L908.1 169.7 L909.4 161.4 L910.7 160.7 L912.0 159.4 L913.2 158.1 L914.5 156.8 L915.8 159.4 L917.1 162.6 L918.4 156.8 L919.7 154.9 L921.0 147.8 L922.3 145.2 L923.6 144.6 L924.9 145.2 L926.2 147.8 L927.5 151.7 L928.7 149.1 L930.0 149.7 L931.1 160.1 L932.4 159.4 L933.7 149.1 L934.6 134.9 L935.9 126.5 L937.1 127.1 L938.4 138.7 L939.7 140.0 L941.0 134.9 L942.3 129.7 L943.6 124.5 L944.9 122.0 L946.2 120.0 L947.5 118.7 L948.8 114.9 L950.1 116.8 L951.4 118.1 L952.6 116.1 L953.9 120.0 L955.2 118.1 L956.1 141.3 L957.2 132.3 L958.2 125.2 L959.5 125.8 L960.8 133.6 L962.1 137.5 L963.4 140.0 L964.7 133.6 L965.9 137.5 L967.2 145.2 L968.5 144.6 L969.8 140.0 L970.7 128.4 L972.0 121.3 L973.3 116.8 L974.6 114.2 L975.9 123.2 L977.2 118.7 L978.5 123.9 L979.8 120.0 L981.1 116.8 L982.4 120.0 L983.6 116.1 L984.9 120.7 L986.2 113.6 L987.9 111.6 L989.2 120.7 L990.1 127.1 L991.4 131.0 L992.7 135.5 L994.0 143.9 L995.3 149.1 L996.6 156.8 L997.9 168.5 L999.1 180.1 L1000.0 169.7 L1001.1 165.9 L1002.4 163.3 L1003.7 162.0 L1005.0 154.2 L1005.7 161.0 L1006.7 173.2 L1007.8 170.5 L1008.8 165.1 L1009.4 184.0 L1010.1 211.0 L1010.8 227.2 L1011.5 224.5 L1012.1 235.3 L1012.8 238.0 L1013.2 217.7 L1013.5 189.4 L1014.2 197.5 L1014.8 205.6 L1015.5 200.2 L1016.2 193.4 L1016.9 201.5 L1017.5 206.9 L1018.2 212.3 L1019.2 218.4 L1020.0 205.6 L1020.5 189.4 L1021.3 179.9 L1022.3 178.6 L1023.2 176.6 L1024.3 170.5 L1025.0 162.4 L1025.9 163.7 L1026.7 168.5 L1027.7 165.1 L1028.3 157.0 L1029.0 147.5 L1030.0 139.4 L1032.3 131.0 L1033.6 132.3 L1034.5 140.1 L1035.5 148.4 L1036.5 140.1 L1037.8 138.1 L1039.1 136.2 L1040.4 132.3 L1041.7 128.4 L1043.0 124.6 L1044.5 122.6 L1045.8 124.6 L1047.1 123.3 L1048.4 128.4 L1049.7 130.4 L1051.0 122.0 L1052.0 114.2 L1053.3 108.4 L1054.6 105.2 L1055.9 96.8 L1057.2 98.1 L1058.5 101.3 L1059.8 96.2 L1061.1 97.4 L1062.3 100.7 L1063.6 95.5 L1064.9 94.2 L1066.2 91.6 L1067.5 85.2 L1068.8 84.5 L1070.1 89.7 L1071.4 101.3 L1072.7 93.6 L1074.0 87.8 L1075.3 85.8 L1076.6 76.8 L1077.8 76.1 L1079.1 79.4 L1080.4 85.2 L1081.7 76.8 L1083.0 74.2 L1084.3 75.5 L1085.6 74.2 L1086.7 77.4 L1087.5 79.1 L1088.3 74.2 L1088.9 70.9 L1089.7 71.7 L1090.8 69.2 L1091.6 64.3 L1092.2 60.2 L1093.0 59.4 L1094.1 58.1 L1094.9 59.8 L1095.5 54.4 L1096.3 51.2 L1097.4 49.1 L1098.2 52.0 L1099.0 57.7 L1099.9 60.2 L1100.7 56.1 L1101.5 52.0 L1102.3 48.7 L1103.5 46.2 L1104.8 44.6 L1105.9 42.9 L1106.4 52.0 L1107.0 65.1 L1107.7 57.7 L1108.6 56.9 L1109.7 53.6 L1110.5 51.2 L1111.6 47.5 L1112.6 45.8 L1113.4 47.9 L1114.2 38.0 L1115.2 31.4 L1116.3 29.8 L1117.1 33.1 L1117.9 38.0 L1118.8 34.7 L1119.6 34.7 L1120.4 41.3 L1121.0 47.9 L1121.5 52.0" stroke="#000"/>
<path d="M169.6 420.2 L172.3 418.7 L174.4 416.5 L176.5 415.5 L179.6 414.6 L182.8 414.6 L186.0 414.6 L189.2 414.2 L192.3 413.2 L195.5 410.7 L198.7 408.1 L201.8 403.9 L205.0 399.6 L208.2 396.5 L211.3 393.8 L214.5 391.7 L217.7 389.1 L220.8 383.8 L223.5 379.0 L226.1 375.9 L229.3 372.7 L232.5 370.1 L235.6 365.8 L238.8 362.7 L241.6 361.9 L244.8 359.8 L248.0 358.2 L251.1 355.5 L254.3 353.4 L257.5 351.8 L260.6 350.8 L263.8 349.7 L266.4 347.6 L269.1 344.4 L272.3 342.3 L275.4 340.2 L278.6 338.1 L281.8 336.0 L284.9 332.8 L288.1 330.7 L291.3 328.6 L294.4 326.5 L297.6 324.4 L300.8 322.8 L303.9 321.2 L307.1 320.1 L310.3 318.6 L313.4 317.5 L316.6 316.4 L318.7 315.9 L321.9 313.3 L325.1 310.6 L328.2 308.0 L331.4 305.9 L334.6 304.3 L337.7 302.2 L340.9 300.1 L344.1 298.0 L346.3 297.0 L349.5 296.5 L352.7 295.6 L355.8 295.4 L359.0 295.9 L362.2 295.9 L365.4 294.9 L368.5 293.3 L371.7 291.7 L374.9 289.6 L378.0 287.5 L381.2 285.9 L384.4 284.3 L387.5 282.7 L390.7 281.2 L393.9 279.0 L397.0 277.3 L400.2 275.4 L403.4 274.1 L406.5 273.4 L409.7 273.4 L412.9 274.8 L415.0 276.9 L417.1 280.1 L420.3 282.7 L423.4 284.3 L426.6 285.9 L429.8 288.6 L433.0 291.7 L435.6 294.4 L437.7 297.5 L439.8 301.8 L441.9 304.4 L444.0 306.5 L446.7 307.0 L449.9 306.0 L453.0 304.9 L456.5 306.1 L459.7 307.4 L462.9 310.0 L466.1 312.0 L469.4 315.2 L472.6 317.8 L475.8 320.4 L479.1 322.9 L482.3 325.5 L484.2 328.7 L486.2 333.9 L488.7 339.1 L491.3 343.0 L493.9 347.5 L496.5 351.4 L499.1 354.6 L501.7 357.2 L504.2 359.1 L506.8 359.1 L509.4 358.5 L512.0 357.2 L514.6 355.9 L517.8 354.3 L521.0 352.6 L523.6 350.1 L526.2 347.5 L529.4 346.2 L532.7 344.9 L535.2 344.0 L537.8 344.2 L540.4 345.5 L543.0 347.5 L545.6 350.1 L548.2 354.6 L550.7 358.5 L553.3 361.7 L555.9 364.3 L558.5 366.9 L561.1 368.5 L563.9 369.0 L567.7 369.4 L571.0 368.8 L574.2 366.9 L577.4 364.3 L580.7 361.7 L583.9 359.7 L587.1 358.5 L590.4 357.4 L593.6 356.5 L596.8 355.6 L600.0 353.9 L603.3 352.0 L606.5 350.1 L609.7 348.8 L613.0 347.9 L616.8 346.8 L620.7 345.5 L624.6 344.2 L628.5 343.2 L632.3 342.7 L636.2 342.3 L640.1 342.1 L644.0 342.1 L647.8 342.3 L651.7 342.3 L655.6 341.7 L659.5 340.4 L663.3 337.8 L667.2 335.2 L671.1 331.3 L675.0 327.5 L676.5 327.2 L679.7 324.6 L682.9 322.0 L686.1 318.8 L689.4 314.9 L692.6 310.4 L695.8 305.9 L699.1 302.0 L702.3 299.4 L705.5 297.9 L708.7 297.5 L712.0 296.8 L715.2 295.8 L718.4 294.9 L721.0 294.5 L723.6 295.5 L726.2 297.5 L729.4 300.1 L732.6 302.0 L735.9 303.9 L739.1 305.9 L742.3 307.8 L745.6 309.5 L748.8 310.4 L752.0 310.8 L755.2 310.4 L758.5 309.5 L761.7 307.2 L764.9 303.9 L768.2 299.4 L771.4 295.5 L774.6 291.7 L777.9 287.1 L781.1 281.3 L784.3 276.2 L789.7 269.8 L792.9 265.3 L796.1 260.7 L799.4 256.2 L802.6 252.4 L805.8 248.5 L809.1 244.6 L812.3 240.7 L815.5 236.9 L818.7 233.0 L822.0 229.7 L825.2 227.2 L828.4 225.2 L831.7 224.6 L834.9 224.3 L838.1 223.5 L841.4 222.6 L844.6 221.0 L847.8 219.4 L851.0 218.4 L854.3 217.9 L857.5 216.8 L860.7 215.5 L864.0 213.6 L867.2 210.4 L870.4 206.5 L873.6 201.3 L876.9 196.8 L880.1 193.6 L883.3 191.6 L886.6 191.0 L889.8 190.7 L893.2 187.8 L896.5 185.9 L899.7 185.0 L902.9 184.6 L906.1 183.7 L909.4 182.7 L912.6 181.4 L915.8 179.4 L919.1 176.9 L922.3 173.6 L924.9 168.5 L927.5 165.2 L930.0 163.3 L932.6 162.3 L935.2 159.7 L937.8 156.2 L940.4 153.0 L943.0 149.1 L945.5 145.9 L948.1 143.3 L950.7 140.0 L953.3 136.8 L955.9 134.9 L958.5 133.8 L961.0 132.9 L963.6 132.0 L966.2 131.0 L968.8 130.0 L971.4 129.1 L974.0 128.2 L976.5 127.4 L979.1 126.9 L981.7 126.1 L984.3 125.6 L986.9 125.2 L989.5 125.2 L992.0 126.5 L994.6 128.4 L997.2 131.0 L999.8 133.6 L1002.4 135.1 L1005.0 136.8 L1006.1 137.0 L1008.1 138.8 L1009.4 140.8 L1010.8 144.2 L1012.1 148.2 L1013.5 152.3 L1014.8 156.3 L1016.2 159.0 L1017.5 161.7 L1018.9 164.4 L1020.2 167.1 L1021.6 169.8 L1022.9 172.5 L1024.3 174.3 L1026.3 175.9 L1028.3 177.0 L1030.4 176.6 L1032.4 175.2 L1034.4 173.2 L1036.4 172.1 L1038.5 170.8 L1040.5 169.4 L1042.5 167.8 L1044.5 165.8 L1046.6 163.1 L1047.9 160.4 L1049.3 157.7 L1051.6 152.3 L1055.2 142.2 L1056.6 138.4 L1059.4 133.1 L1062.2 126.8 L1065.1 121.1 L1067.9 116.9 L1070.7 113.7 L1073.5 109.9 L1076.6 105.6 L1079.4 101.4 L1082.3 97.9 L1085.1 93.0 L1087.9 90.1 L1090.7 86.6 L1093.5 83.1 L1096.3 78.9 L1101.9 73.3 L1104.4 70.5 L1106.8 67.6 L1109.3 64.7 L1111.8 61.8 L1114.2 59.0 L1116.7 56.1 L1119.2 54.0 L1121.6 52.4" stroke="#008000"/>
<path d="M151.1 421.8 L152.7 419.7 L154.3 416.5 L155.9 415.5 L158.5 414.6 L161.2 414.4 L163.3 415.0 L165.9 417.1 L169.1 418.7 L172.3 419.7 L174.4 418.7 L176.5 416.0 L179.6 413.9 L182.8 412.3 L186.0 411.3 L189.2 408.1 L192.3 406.0 L195.5 403.9 L198.1 401.2 L200.2 398.6 L201.8 394.4 L203.4 390.7 L205.0 387.0 L207.1 383.8 L209.8 380.6 L212.4 378.5 L215.6 376.4 L218.7 373.8 L221.9 370.6 L225.1 367.4 L228.2 364.8 L231.4 363.2 L234.6 360.0 L236.7 357.4 L238.8 354.8 L242.7 352.9 L245.8 352.9 L249.0 350.8 L251.7 348.7 L254.3 348.1 L257.5 349.2 L260.1 349.7 L262.7 348.1 L264.9 346.0 L267.0 342.3 L269.1 338.6 L271.7 336.0 L274.4 332.8 L276.5 329.6 L278.6 326.5 L280.7 324.4 L283.9 323.8 L287.0 323.8 L290.2 324.2 L293.4 323.8 L296.5 323.1 L299.7 321.7 L302.9 319.6 L306.1 317.0 L309.2 314.3 L312.4 312.2 L315.6 310.1 L318.7 308.0 L321.9 305.4 L325.1 303.2 L328.2 301.7 L331.4 300.1 L334.6 298.0 L337.7 295.8 L340.9 293.7 L344.1 292.5 L345.3 292.5 L347.9 292.3 L350.6 292.8 L353.2 292.3 L355.8 294.4 L358.5 296.5 L361.1 299.1 L363.2 299.6 L365.9 298.1 L368.5 295.4 L371.2 291.7 L373.3 287.0 L375.4 282.7 L377.5 278.5 L380.1 275.4 L382.3 274.3 L385.4 273.8 L388.6 274.1 L391.8 274.8 L394.9 276.4 L398.1 277.7 L401.3 276.9 L404.4 274.8 L407.6 273.8 L410.8 274.5 L412.9 276.9 L415.0 281.2 L417.1 284.9 L419.2 288.0 L421.3 291.7 L423.4 295.4 L425.6 299.6 L427.7 302.8 L429.8 304.9 L433.0 304.9 L435.6 306.5 L437.7 310.2 L439.8 313.4 L441.9 315.0 L444.0 314.4 L446.2 312.8 L448.3 309.2 L450.9 306.0 L453.6 303.3 L455.2 301.6 L457.7 299.3 L459.7 299.0 L461.6 301.6 L463.6 305.5 L465.5 310.7 L467.4 315.8 L469.4 322.3 L471.3 327.5 L473.2 333.9 L475.2 339.1 L477.1 343.0 L479.7 344.9 L482.9 346.2 L485.5 349.4 L488.1 353.3 L490.7 355.9 L493.3 357.8 L495.9 359.7 L498.4 361.7 L500.4 364.9 L502.3 368.8 L503.6 370.1 L505.5 367.5 L507.5 364.3 L509.4 360.4 L512.0 355.9 L514.6 350.7 L517.2 344.9 L519.7 338.4 L522.3 333.9 L524.9 332.0 L527.5 333.3 L530.1 334.6 L532.7 335.9 L534.6 339.7 L536.5 344.2 L538.5 350.7 L540.4 356.5 L542.4 361.0 L544.9 365.6 L547.5 370.7 L550.1 375.9 L552.7 379.1 L554.6 379.1 L557.2 377.2 L559.8 374.6 L562.6 374.0 L564.5 370.1 L566.5 364.9 L569.0 360.4 L571.6 357.2 L574.2 354.6 L576.8 352.6 L579.4 350.1 L580.9 349.2 L583.2 350.7 L585.8 353.3 L588.4 355.9 L591.0 357.8 L593.6 358.7 L596.2 358.2 L598.7 357.8 L601.3 357.2 L603.3 353.9 L605.2 349.4 L607.1 345.5 L609.7 341.7 L612.3 338.4 L614.9 336.8 L618.1 336.2 L620.7 336.8 L623.3 337.8 L625.2 341.0 L627.2 344.2 L629.7 347.5 L632.3 349.4 L634.9 349.2 L637.5 347.5 L640.7 346.2 L643.3 343.0 L645.9 339.7 L648.5 337.1 L651.1 335.5 L654.3 334.9 L658.2 334.6 L662.0 334.2 L665.3 333.3 L667.9 330.7 L670.4 326.8 L673.0 322.3 L675.2 320.7 L677.7 317.5 L680.3 314.3 L682.9 311.0 L685.5 307.2 L688.1 303.9 L690.7 300.7 L693.2 297.5 L695.8 294.2 L698.4 291.7 L701.0 290.6 L703.8 290.1 L706.2 291.7 L708.7 294.2 L711.3 296.2 L714.6 297.5 L717.8 298.1 L721.0 298.4 L724.2 299.4 L727.5 301.4 L730.1 303.9 L732.6 306.5 L735.2 308.5 L737.8 311.0 L740.4 314.3 L742.3 316.9 L744.3 317.8 L746.9 317.2 L749.4 315.9 L752.0 314.3 L754.6 311.7 L757.2 307.8 L759.8 302.0 L762.4 295.5 L764.9 289.7 L767.5 283.9 L770.1 278.7 L772.7 274.9 L775.3 272.3 L778.5 269.1 L781.7 265.8 L785.0 263.2 L786.5 260.7 L789.7 258.2 L792.9 255.6 L795.5 252.4 L798.1 248.5 L800.7 244.6 L803.2 240.7 L805.8 237.5 L808.4 234.3 L811.0 231.0 L813.6 227.8 L816.2 224.6 L818.7 221.4 L821.3 219.2 L823.9 217.9 L826.5 217.1 L828.4 217.5 L831.0 219.7 L833.6 222.0 L836.2 224.6 L838.8 226.1 L841.4 226.5 L843.9 225.9 L846.5 223.3 L849.1 219.4 L851.7 216.2 L854.3 213.0 L856.9 209.1 L859.4 205.9 L862.0 203.3 L864.6 200.7 L867.2 198.1 L869.8 195.5 L872.4 192.3 L874.9 188.4 L877.5 185.2 L880.1 183.9 L882.7 183.2 L885.3 183.2 L887.9 185.2 L890.4 187.8 L895.2 190.4 L897.7 189.1 L900.3 187.2 L902.9 186.5 L904.9 184.0 L906.8 180.1 L909.4 176.2 L912.0 173.6 L914.5 171.7 L917.1 169.7 L919.7 167.2 L922.3 162.0 L924.9 156.8 L927.5 154.2 L930.0 153.2 L932.6 152.3 L935.2 148.4 L937.8 145.2 L940.4 142.6 L943.0 140.0 L945.5 136.8 L948.1 132.9 L950.7 127.8 L953.3 125.2 L955.9 125.2 L957.8 124.8 L960.4 123.9 L963.0 125.2 L965.6 127.8 L968.1 130.4 L970.7 132.3 L973.3 132.0 L975.9 131.3 L978.5 129.1 L981.1 127.1 L983.6 125.2 L986.2 122.6 L988.8 120.0 L990.1 119.4 L992.0 120.7 L994.0 123.2 L995.9 127.1 L997.9 132.3 L999.8 137.5 L1001.7 142.6 L1003.7 147.8 L1005.4 152.9 L1006.7 156.3 L1008.1 159.0 L1009.4 162.4 L1010.8 166.4 L1012.1 171.2 L1013.5 175.9 L1014.8 179.3 L1016.2 181.3 L1017.5 183.3 L1018.9 185.3 L1020.2 187.4 L1021.6 189.4 L1022.9 191.0 L1024.3 192.1 L1025.6 192.4 L1027.0 192.1 L1028.3 190.1 L1029.7 186.0 L1030.8 181.3 L1031.7 174.5 L1033.1 169.1 L1034.4 164.4 L1035.8 160.4 L1037.1 157.0 L1038.5 152.9 L1039.8 148.9 L1040.7 147.8 L1042.6 142.6 L1044.5 137.5 L1046.5 134.2 L1048.4 132.6 L1051.0 131.0 L1052.9 128.4 L1054.9 124.6 L1056.8 121.3 L1058.7 118.1 L1060.7 114.9 L1062.6 111.6 L1064.5 108.4 L1066.5 104.5 L1068.4 100.0 L1070.4 96.2 L1072.9 93.6 L1075.5 91.6 L1078.1 89.1 L1080.7 86.5 L1083.3 84.5 L1085.8 83.0 L1088.4 81.9 L1091.0 79.4 L1093.6 75.5 L1096.2 71.0 L1098.8 66.5 L1100.3 63.9 L1101.9 61.0 L1104.4 57.7 L1106.8 55.3 L1109.3 53.2 L1111.8 51.6 L1114.2 49.5 L1117.5 47.5 L1121.6 45.2" stroke="#ff0000"/>
<path d="M282.1 377.4 L293.4 369.8 L298.7 366.4 L303.9 362.9 L309.2 359.8 L314.5 356.1 L319.8 351.8 L325.1 347.6 L330.3 343.4 L335.6 339.2 L340.9 334.9 L345.3 331.9 L350.6 328.7 L355.8 325.5 L361.1 322.9 L366.4 320.2 L371.7 317.1 L377.0 313.9 L382.3 310.7 L387.5 308.6 L392.8 306.0 L398.1 303.3 L403.4 301.2 L408.7 298.6 L411.8 297.5 L416.1 296.8 L422.4 295.9 L429.8 295.2 L437.2 294.4 L445.6 293.5 L452.0 293.1 L455.2 293.2 L460.3 293.2 L465.5 294.5 L470.7 296.5 L475.8 298.4 L481.0 299.7 L484.9 301.6 L488.7 303.6 L493.9 306.1 L499.1 308.1 L504.2 310.0 L509.4 311.7 L514.6 313.2 L519.7 314.5 L523.6 316.5 L527.5 318.4 L532.7 321.0 L537.8 324.2 L543.0 328.1 L548.2 332.6 L553.3 336.5 L558.5 339.1 L565.2 341.0 L570.3 343.0 L575.5 344.5 L580.7 346.2 L585.8 347.5 L591.0 349.4 L596.2 351.4 L601.3 352.9 L606.5 353.9 L611.7 354.3 L616.8 354.3 L622.0 353.9 L627.2 353.9 L631.7 354.6 L634.9 353.9 L640.1 352.6 L645.2 351.4 L650.4 350.3 L655.6 349.7 L660.7 349.4 L665.9 349.4 L671.1 348.8 L675.2 347.9 L680.3 346.6 L685.5 344.6 L690.7 341.4 L695.8 338.2 L701.0 334.9 L706.2 332.4 L711.3 330.2 L716.5 328.5 L721.7 326.8 L726.8 325.2 L732.0 323.7 L737.2 322.1 L742.3 320.9 L747.5 319.6 L752.7 318.1 L757.8 316.9 L763.0 315.2 L768.2 313.0 L773.3 310.4 L778.5 307.8 L783.7 304.6 L838.1 269.8 L844.6 265.9 L851.0 262.7 L857.5 258.8 L864.0 254.3 L870.4 249.8 L876.9 244.0 L883.3 238.8 L889.8 233.6 L917.8 209.8 L922.3 206.6 L928.7 202.0 L935.2 197.5 L941.7 193.0 L948.1 188.5 L954.6 183.3 L961.0 179.4 L967.5 176.2 L974.0 173.6 L980.4 169.1 L986.9 163.9 L993.3 159.4 L999.8 156.8 L1005.0 155.5 L1005.4 155.6 L1008.1 155.0 L1010.8 155.2 L1013.5 155.6 L1016.2 156.0 L1020.2 156.3 L1024.3 156.0 L1028.3 155.6 L1032.4 153.9 L1036.4 152.3 L1040.5 150.9 L1045.9 149.2 L1051.3 147.3 L1056.7 144.4 L1062.1 142.3 L1067.5 139.7 L1072.9 137.4 L1078.3 135.1 L1083.7 132.7 L1087.1 131.0 L1092.3 128.7 L1097.5 126.1 L1102.6 123.5 L1107.8 120.4 L1113.0 116.8 L1116.8 114.2 L1120.1 111.6 L1121.6 110.6" stroke="#800080"/>
</g>
<path d="M86.5 252.5 H1171.5" stroke="#ff0000" stroke-opacity="0.7" stroke-width="1.39" stroke-dasharray="8.89 2.22 1.39 2.22" fill="none"/>
<path d="M86.5 28.5 H1171.5" stroke="#008000" stroke-opacity="0.7" stroke-width="1.39" stroke-dasharray="8.89 2.22 1.39 2.22" fill="none"/>
<path d="M1121.5 456.5 V10.5" stroke="#ff0000" stroke-opacity="0.7" stroke-width="1.39" stroke-dasharray="5.14 2.22" fill="none"/>
</g>
<g stroke="#000" stroke-width="1.1" fill="none">
<rect x="86.5" y="10.5" width="1085.0" height="446.0"/>
<rect x="86.5" y="471.5" width="1085.0" height="149.0"/>
<path d="M216.5 456.5 v4.9"/>
<path d="M216.5 620.5 v4.9"/>
<path d="M403.5 456.5 v4.9"/>
<path d="M403.5 620.5 v4.9"/>
<path d="M589.5 456.5 v4.9"/>
<path d="M589.5 620.5 v4.9"/>
<path d="M776.5 456.5 v4.9"/>
<path d="M776.5 620.5 v4.9"/>
<path d="M963.5 456.5 v4.9"/>
<path d="M963.5 620.5 v4.9"/>
<path d="M1149.5 456.5 v4.9"/>
<path d="M1149.5 620.5 v4.9"/>
<path d="M86.5 438.5 h-4.9"/>
<path d="M86.5 384.5 h-4.9"/>
<path d="M86.5 329.5 h-4.9"/>
<path d="M86.5 275.5 h-4.9"/>
<path d="M86.5 221.5 h-4.9"/>
<path d="M86.5 167.5 h-4.9"/>
<path d="M86.5 112.5 h-4.9"/>
<path d="M86.5 58.5 h-4.9"/>
<path d="M86.5 620.5 h-4.9"/>
<path d="M86.5 582.5 h-4.9"/>
<path d="M86.5 543.5 h-4.9"/>
<path d="M86.5 505.5 h-4.9"/>
</g>
<text x="76.2" y="442.9" font-size="13.30" text-anchor="end" fill="#000" textLength="23.8" lengthAdjust="spacingAndGlyphs" >150</text>
<text x="76.2" y="388.9" font-size="13.30" text-anchor="end" fill="#000" textLength="23.8" lengthAdjust="spacingAndGlyphs" >175</text>
<text x="76.2" y="333.9" font-size="13.30" text-anchor="end" fill="#000" textLength="23.8" lengthAdjust="spacingAndGlyphs" >200</text>
<text x="76.2" y="279.9" font-size="13.30" text-anchor="end" fill="#000" textLength="23.8" lengthAdjust="spacingAndGlyphs" >225</text>
<text x="76.2" y="225.9" font-size="13.30" text-anchor="end" fill="#000" textLength="23.8" lengthAdjust="spacingAndGlyphs" >250</text>
<text x="76.2" y="171.9" font-size="13.30" text-anchor="end" fill="#000" textLength="23.8" lengthAdjust="spacingAndGlyphs" >275</text>
<text x="76.2" y="116.9" font-size="13.30" text-anchor="end" fill="#000" textLength="23.8" lengthAdjust="spacingAndGlyphs" >300</text>
<text x="76.2" y="62.9" font-size="13.30" text-anchor="end" fill="#000" textLength="23.8" lengthAdjust="spacingAndGlyphs" >325</text>
<text x="75.5" y="625.1" font-size="13.30" text-anchor="end" fill="#000" textLength="8.0" lengthAdjust="spacingAndGlyphs" >0</text>
<text x="75.5" y="587.1" font-size="13.30" text-anchor="end" fill="#000" textLength="47.7" lengthAdjust="spacingAndGlyphs" >100000</text>
<text x="75.5" y="548.1" font-size="13.30" text-anchor="end" fill="#000" textLength="47.7" lengthAdjust="spacingAndGlyphs" >200000</text>
<text x="75.5" y="510.1" font-size="13.30" text-anchor="end" fill="#000" textLength="47.7" lengthAdjust="spacingAndGlyphs" >300000</text>
<text x="216.5" y="638.8" font-size="13.30" text-anchor="middle" fill="#000" textLength="52.0" lengthAdjust="spacingAndGlyphs" >2021-01</text>
<text x="403.5" y="638.8" font-size="13.30" text-anchor="middle" fill="#000" textLength="52.0" lengthAdjust="spacingAndGlyphs" >2022-01</text>
<text x="589.5" y="638.8" font-size="13.30" text-anchor="middle" fill="#000" textLength="52.0" lengthAdjust="spacingAndGlyphs" >2023-01</text>
<text x="776.5" y="638.8" font-size="13.30" text-anchor="middle" fill="#000" textLength="52.0" lengthAdjust="spacingAndGlyphs" >2024-01</text>
<text x="963.5" y="638.8" font-size="13.30" text-anchor="middle" fill="#000" textLength="52.0" lengthAdjust="spacingAndGlyphs" >2025-01</text>
<text x="1149.5" y="638.8" font-size="13.30" text-anchor="middle" fill="#000" textLength="52.0" lengthAdjust="spacingAndGlyphs" >2026-01</text>
<text transform="translate(18.3,546.5) rotate(-90)" font-size="13.30" text-anchor="middle" textLength="44" lengthAdjust="spacingAndGlyphs">Volume</text>
<rect x="93.4" y="17.2" width="108.3" height="119.4" rx="3" ry="3" fill="#fff" fill-opacity="0.8" stroke="#ccc" stroke-width="1.1"/>
<g stroke-width="2" fill="none">
<path d="M97 26.8 H127" stroke="#000"/>
<path d="M97 46.9 H127" stroke="#008000"/>
<path d="M97 68.0 H127" stroke="#ff0000"/>
<path d="M97 85.8 H127" stroke="#800080"/>
</g>
<path d="M112.4 95.2 L102.0 116.0 L122.8 116.0 Z" fill="#008000"/>
<path d="M112.4 136.0 L102.0 115.2 L122.8 115.2 Z" fill="#ff0000"/>
<text x="138.1" y="31.7" font-size="12.70" text-anchor="start" fill="#000" textLength="32.3" lengthAdjust="spacingAndGlyphs" >Close</text>
<text x="137.6" y="51.5" font-size="12.70" text-anchor="start" fill="#000" textLength="37.1" lengthAdjust="spacingAndGlyphs" >MA50[</text>
<text x="175.0" y="52.8" font-size="13.90" text-anchor="start" fill="#000" >买</text>
<text x="189.6" y="51.5" font-size="12.70" text-anchor="start" fill="#000" >]</text>
<text x="137.6" y="72.6" font-size="12.70" text-anchor="start" fill="#000" textLength="37.1" lengthAdjust="spacingAndGlyphs" >MA25[</text>
<text x="175.0" y="73.9" font-size="13.90" text-anchor="start" fill="#000" >卖</text>
<text x="189.6" y="72.6" font-size="12.70" text-anchor="start" fill="#000" >]</text>
<text x="137.6" y="91.2" font-size="12.70" text-anchor="start" fill="#000" textLength="42.0" lengthAdjust="spacingAndGlyphs" >MA200</text>
<text x="137.6" y="109.5" font-size="12.70" text-anchor="start" fill="#000" textLength="20.3" lengthAdjust="spacingAndGlyphs" >Buy</text>
<text x="138.4" y="128.7" font-size="12.70" text-anchor="start" fill="#000" textLength="20.9" lengthAdjust="spacingAndGlyphs" >Sell</text>
<rect x="971.5" y="348.3" width="182.5" height="90" rx="4" ry="4" fill="#fff" fill-opacity="0.9" stroke="#ff0000" stroke-width="1.1"/>
<text x="1148.8" y="363.7" font-size="14.90" text-anchor="end" fill="#ff0000" textLength="151.1" lengthAdjust="spacingAndGlyphs" >327.29 (-2.05 -0.62%)</text>
<text x="1148.8" y="380.8" font-size="14.90" text-anchor="end" fill="#ff0000" textLength="107.2" lengthAdjust="spacingAndGlyphs" >235.43~339.02</text>
<text x="1148.8" y="396.6" font-size="14.90" text-anchor="end" fill="#ff0000" textLength="165.1" lengthAdjust="spacingAndGlyphs" >331.01/327.49/299.81</text>
<text x="1148.8" y="412.7" font-size="14.90" text-anchor="end" fill="#ff0000" textLength="127.0" lengthAdjust="spacingAndGlyphs" >2025-11-07 05:00</text>
<text x="975.8" y="430.9" font-size="14.90" text-anchor="start" fill="#ff0000" textLength="44.6" lengthAdjust="spacingAndGlyphs" >-1.33/</text>
<text x="1021.6" y="432.3" font-size="14.90" text-anchor="start" fill="#ff0000" textLength="29.4" lengthAdjust="spacingAndGlyphs" >偏空</text>
<text x="1148.8" y="430.9" font-size="14.90" text-anchor="end" fill="#ff0000" textLength="96.8" lengthAdjust="spacingAndGlyphs" >/+0.32/+0.03</text>
<text x="86.5" y="675.6" font-size="16.10" text-anchor="start" fill="#000" textLength="20.5" lengthAdjust="spacingAndGlyphs" >VTI</text>
<text x="112.7" y="677.2" font-size="16.50" text-anchor="start" fill="#000" textLength="65.2" lengthAdjust="spacingAndGlyphs" >交易次数</text>
<text x="179.8" y="675.6" font-size="16.10" text-anchor="start" fill="#000" >:</text>
<text x="190.0" y="675.6" font-size="16.10" text-anchor="start" fill="#000" textLength="8.9" lengthAdjust="spacingAndGlyphs" >5</text>
<text x="86.5" y="697.4" font-size="16.50" text-anchor="start" fill="#000" textLength="98.9" lengthAdjust="spacingAndGlyphs" >策略总收益率</text>
<text x="187.3" y="696.0" font-size="16.10" text-anchor="start" fill="#000" >:</text>
<text x="196.7" y="696.0" font-size="16.10" text-anchor="start" fill="#000" textLength="65.1" lengthAdjust="spacingAndGlyphs" >118.60%</text>
<text x="86.5" y="716.9" font-size="16.50" text-anchor="start" fill="#000" textLength="98.9" lengthAdjust="spacingAndGlyphs" >长期持有收益</text>
<text x="187.3" y="715.5" font-size="16.10" text-anchor="start" fill="#000" >:</text>
<text x="196.7" y="715.5" font-size="16.10" text-anchor="start" fill="#000" textLength="65.1" lengthAdjust="spacingAndGlyphs" >110.29%</text>
<text x="86.5" y="736.6" font-size="16.50" text-anchor="start" fill="#000" textLength="64.2" lengthAdjust="spacingAndGlyphs" >交易记录</text>
<text x="152.0" y="735.2" font-size="16.10" text-anchor="start" fill="#000" >:</text>
<text x="97.2" y="751.5" font-size="16.10" text-anchor="start" fill="#000" textLength="63.2" lengthAdjust="spacingAndGlyphs" >Buy Date</text>
<text x="172.3" y="751.5" font-size="16.10" text-anchor="start" fill="#000" textLength="65.0" lengthAdjust="spacingAndGlyphs" >Buy Price</text>
<text x="249.0" y="751.5" font-size="16.10" text-anchor="start" fill="#000" textLength="65.0" lengthAdjust="spacingAndGlyphs" >Sell Date</text>
<text x="325.8" y="751.5" font-size="16.10" text-anchor="start" fill="#000" textLength="66.3" lengthAdjust="spacingAndGlyphs" >Sell Price</text>
<text x="403.5" y="751.5" font-size="16.10" text-anchor="start" fill="#000" textLength="93.1" lengthAdjust="spacingAndGlyphs" >Holding Days</text>
<text x="508.5" y="751.5" font-size="16.10" text-anchor="start" fill="#000" textLength="53.6" lengthAdjust="spacingAndGlyphs" >Profit %</text>
<text x="86.3" y="769.2" font-size="16.10" text-anchor="start" fill="#000" textLength="89.1" lengthAdjust="spacingAndGlyphs" >2020-10-28</text>
<text x="201.9" y="769.2" font-size="16.10" text-anchor="start" fill="#000" textLength="52.6" lengthAdjust="spacingAndGlyphs" >155.64</text>
<text x="261.1" y="769.2" font-size="16.10" text-anchor="start" fill="#000" textLength="88.3" lengthAdjust="spacingAndGlyphs" >2021-02-25</text>
<text x="380.7" y="769.2" font-size="16.10" text-anchor="start" fill="#000" textLength="54.4" lengthAdjust="spacingAndGlyphs" >187.72</text>
<text x="491.5" y="769.2" font-size="16.10" text-anchor="start" fill="#000" textLength="28.3" lengthAdjust="spacingAndGlyphs" >120</text>
<text x="545.9" y="769.2" font-size="16.10" text-anchor="start" fill="#000" textLength="43.5" lengthAdjust="spacingAndGlyphs" >20.61</text>
<text x="86.3" y="786.7" font-size="16.10" text-anchor="start" fill="#000" textLength="89.1" lengthAdjust="spacingAndGlyphs" >2021-03-04</text>
<text x="201.9" y="786.7" font-size="16.10" text-anchor="start" fill="#000" textLength="52.6" lengthAdjust="spacingAndGlyphs" >184.01</text>
<text x="261.1" y="786.7" font-size="16.10" text-anchor="start" fill="#000" textLength="88.3" lengthAdjust="spacingAndGlyphs" >2021-11-26</text>
<text x="380.7" y="786.7" font-size="16.10" text-anchor="start" fill="#000" textLength="54.4" lengthAdjust="spacingAndGlyphs" >222.54</text>
<text x="491.5" y="786.7" font-size="16.10" text-anchor="start" fill="#000" textLength="28.3" lengthAdjust="spacingAndGlyphs" >267</text>
<text x="545.9" y="786.7" font-size="16.10" text-anchor="start" fill="#000" textLength="43.5" lengthAdjust="spacingAndGlyphs" >20.94</text>
<text x="86.3" y="804.0" font-size="16.10" text-anchor="start" fill="#000" textLength="89.1" lengthAdjust="spacingAndGlyphs" >2021-11-30</text>
<text x="201.9" y="804.0" font-size="16.10" text-anchor="start" fill="#000" textLength="52.6" lengthAdjust="spacingAndGlyphs" >220.30</text>
<text x="261.1" y="804.0" font-size="16.10" text-anchor="start" fill="#000" textLength="88.3" lengthAdjust="spacingAndGlyphs" >2024-07-26</text>
<text x="380.7" y="804.0" font-size="16.10" text-anchor="start" fill="#000" textLength="54.4" lengthAdjust="spacingAndGlyphs" >265.53</text>
<text x="491.5" y="804.0" font-size="16.10" text-anchor="start" fill="#000" textLength="28.3" lengthAdjust="spacingAndGlyphs" >968</text>
<text x="545.9" y="804.0" font-size="16.10" text-anchor="start" fill="#000" textLength="43.5" lengthAdjust="spacingAndGlyphs" >20.53</text>
<text x="86.3" y="821.4" font-size="16.10" text-anchor="start" fill="#000" textLength="89.1" lengthAdjust="spacingAndGlyphs" >2024-08-02</text>
<text x="201.9" y="821.4" font-size="16.10" text-anchor="start" fill="#000" textLength="52.6" lengthAdjust="spacingAndGlyphs" >258.75</text>
<text x="261.1" y="821.4" font-size="16.10" text-anchor="start" fill="#000" textLength="88.3" lengthAdjust="spacingAndGlyphs" >2025-10-10</text>
<text x="380.7" y="821.4" font-size="16.10" text-anchor="start" fill="#000" textLength="54.4" lengthAdjust="spacingAndGlyphs" >321.72</text>
<text x="491.5" y="821.4" font-size="16.10" text-anchor="start" fill="#000" textLength="28.3" lengthAdjust="spacingAndGlyphs" >434</text>
<text x="545.9" y="821.4" font-size="16.10" text-anchor="start" fill="#000" textLength="43.5" lengthAdjust="spacingAndGlyphs" >24.34</text>
<text x="86.3" y="838.8" font-size="16.10" text-anchor="start" fill="#000" textLength="89.1" lengthAdjust="spacingAndGlyphs" >2025-11-07</text>
<text x="201.9" y="838.8" font-size="16.10" text-anchor="start" fill="#000" textLength="52.6" lengthAdjust="spacingAndGlyphs" >327.29</text>
<text x="261.1" y="838.8" font-size="16.10" text-anchor="start" fill="#000" textLength="88.3" lengthAdjust="spacingAndGlyphs" >2025-11-07</text>
<text x="380.7" y="838.8" font-size="16.10" text-anchor="start" fill="#000" textLength="54.4" lengthAdjust="spacingAndGlyphs" >327.29</text>
<text x="500.4" y="838.8" font-size="16.10" text-anchor="start" fill="#000" textLength="8.8" lengthAdjust="spacingAndGlyphs" >0</text>
<text x="540.8" y="838.8" font-size="16.10" text-anchor="start" fill="#000" textLength="32.9" lengthAdjust="spacingAndGlyphs" >0.00</text>
</svg>
</body></html>
